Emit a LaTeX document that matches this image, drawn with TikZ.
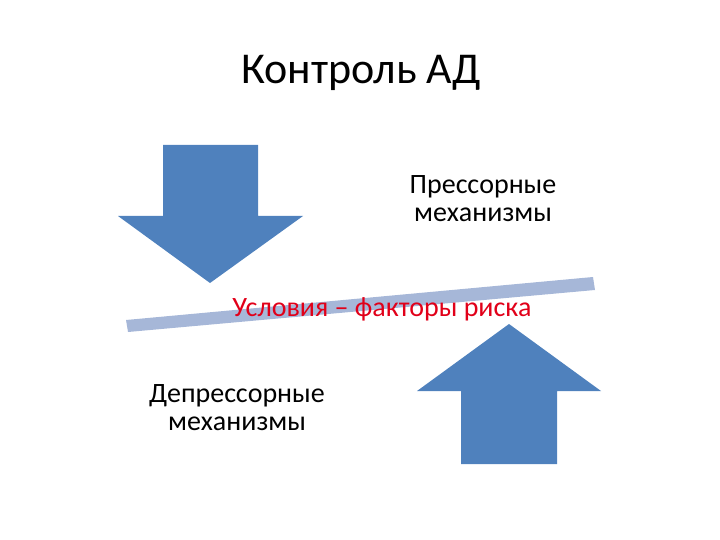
\documentclass[tikz,border=0pt]{standalone}
\usepackage{fontspec}
\setmainfont{Carlito}
\newlength{\du}
\setlength{\du}{1pt}
\definecolor{arrowblue}{RGB}{79,129,189}
\definecolor{beamcolor}{RGB}{166,183,216}
\definecolor{riskred}{RGB}{225,0,25}
\tikzset{
  label text/.style={anchor=base, align=center, font=\fontsize{28}{28}\selectfont},
  block arrow/.style={fill=arrowblue, draw=none},
}
\begin{document}
\begin{tikzpicture}
\pgftransformxscale{1.000000}
\pgftransformyscale{-1.000000}
\useasboundingbox (0\du,0\du) rectangle (720\du,540\du);
% title
\node[anchor=base, font=\fontsize{44}{50}\selectfont] (title) at (361\du,84\du){Контроль АД};
% down arrow
\fill[block arrow] (163\du,145\du) -- (258\du,145\du) -- (258\du,216\du) -- (303\du,216\du)
  -- (210\du,283\du) -- (118\du,216\du) -- (163\du,216\du) -- cycle;
% up arrow
\fill[block arrow] (461\du,464\du) -- (557\du,464\du) -- (557\du,391\du) -- (601\du,391\du)
  -- (509\du,324\du) -- (417\du,391\du) -- (461\du,391\du) -- cycle;
% beam
\fill[beamcolor] (126\du,320\du) -- (593\du,277\du) -- (595\du,290\du) -- (128\du,332\du) -- cycle;
% texts
\node[label text, text=riskred] (risk) at (382\du,316\du){Условия – факторы риска};
\node[label text] (press) at (483\du,222\du){Прессорные\\механизмы};
\node[label text] (depress) at (237\du,430\du){Депрессорные\\механизмы};
\end{tikzpicture}
\end{document}
